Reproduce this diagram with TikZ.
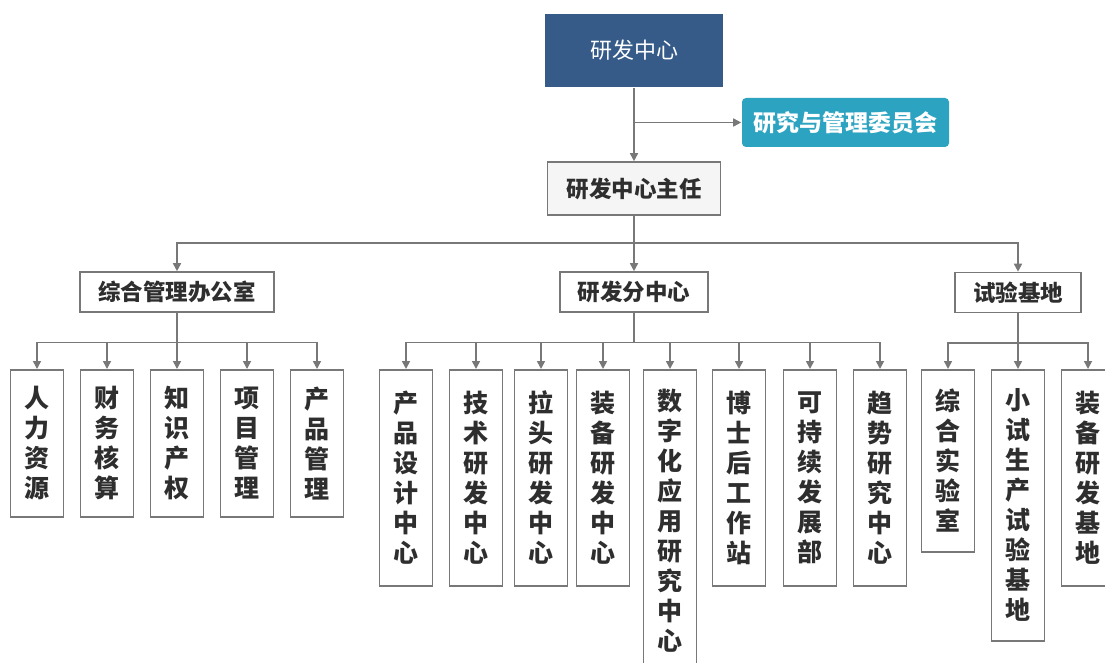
\documentclass[tikz,border=0pt]{standalone}
\usepackage{fontspec}
\setmainfont{Noto Sans CJK SC}
\usetikzlibrary{arrows.meta}
\definecolor{topblue}{HTML}{365B88}
\definecolor{cmtteal}{HTML}{2CA3C0}
\definecolor{linegray}{HTML}{787878}
\definecolor{txtgray}{HTML}{2E2E2E}
\tikzset{ every node/.style={draw=linegray,line width=1.6pt,text=txtgray,inner sep=0pt},
  head/.style={font=\fontsize{22.5}{27}\selectfont\bfseries,minimum height=40pt,inner xsep=18pt},
  leaf/.style={anchor=north,minimum width=53pt,inner ysep=15pt,align=center,font=\fontsize{25}{30}\selectfont\bfseries},
  arr/.style={draw=linegray,line width=1.6pt,-{Triangle[length=8pt,width=8pt]}}}

\begin{document}
\begin{tikzpicture}[x=1pt,y=-1pt]
  \useasboundingbox (0,0) rectangle (1105,663);
  \node[fill=topblue,draw=none,minimum width=178pt,minimum height=73pt,text=white,font=\fontsize{22}{26}\selectfont] (rd) at (634,50.5) {研发中心};
  \node[fill=cmtteal,draw=none,rounded corners=4pt,minimum width=207pt,minimum height=49pt,text=white,font=\fontsize{23}{27}\selectfont\bfseries] (cmt) at (845.5,122.5) {研究与管理委员会};
  \node[head,fill=gray!8,minimum width=173pt,minimum height=53pt] (dir) at (634,188.5) {研发中心主任};

  \foreach \pos/\name/\txt in {{(177,292)/off/综合管理办公室}, {(634,292)/sub/研发分中心}, {(1018,292.5)/base/试验基地}}
        \node[head] (\name) at \pos {\txt};

  \foreach \x/\name/\h/\txt in {37/hr/147/{人\\力\\资\\源}, 107/fin/147/{财\\务\\核\\算}, 177/ip/147/{知\\识\\产\\权}, 247/proj/147/{项\\目\\管\\理}, 317/prod/147/{产\\品\\管\\理},
      406/pdc/216/{产\\品\\设\\计\\中\\心}, 476/tec/216/{技\\术\\研\\发\\中\\心}, 541/zip/216/{拉\\头\\研\\发\\中\\心}, 603/eqp/216/{装\\备\\研\\发\\中\\心},
      670/dig/301/{数\\字\\化\\应\\用\\研\\究\\中\\心}, 739/post/216/{博\\士\\后\\工\\作\\站}, 810/sus/216/{可\\持\\续\\发\\展\\部}, 880/trd/216/{趋\\势\\研\\究\\中\\心},
      948/lab/182/{综\\合\\实\\验\\室}, 1018/pilot/271/{小\\试\\生\\产\\试\\验\\基\\地}, 1088/eqb/216/{装\\备\\研\\发\\基\\地}}
        \node[leaf,minimum height=\h pt] (\name) at (\x,369) {\txt};

  \draw[arr] (rd) -- (dir);
  \draw[arr] (rd.south |- cmt.west) -- (cmt.west);
  \coordinate (bus) at (634,243);
  \draw[arr] (dir) -- (sub);
  \draw[arr] (bus) -| (off.north);
  \draw[arr] (bus) -| (base.north);

  \foreach \up/\kids in {off/{hr,fin,ip,proj,prod}, sub/{pdc,tec,zip,eqp,dig,post,sus,trd}, base/{lab,pilot,eqb}}
    \foreach \k in \kids
	\draw[arr] (\up.south) -- ++(0,29.5) -| (\k.north);
\end{tikzpicture}
\end{document}
